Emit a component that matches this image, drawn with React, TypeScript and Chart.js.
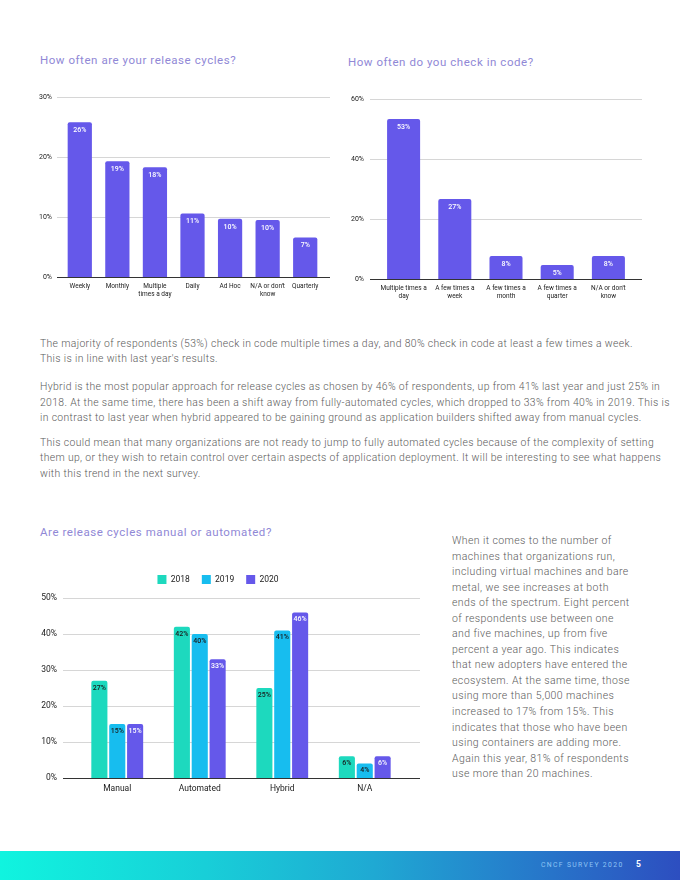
import React, { useEffect, useRef } from "react";
import { Chart, registerables } from "chart.js";

Chart.register(...registerables);

// ---------- data ----------
const releaseCategories: string[][] = [["Weekly"], ["Monthly"], ["Multiple", "times a day"], ["Daily"], ["Ad Hoc"], ["N/A or don't", "know"], ["Quarterly"]];
const releaseValues: number[] = [25.8, 19.3, 18.3, 10.6, 9.7, 9.5, 6.6];
const releaseTicks: number[] = [0, 10, 20, 30];

const checkinCategories: string[][] = [["Multiple times a", "day"], ["A few times a", "week"], ["A few times a", "month"], ["A few times a", "quarter"], ["N/A or don't", "know"]];
const checkinValues: number[] = [53.3, 26.7, 7.7, 4.7, 7.7];
const checkinTicks: number[] = [0, 20, 40, 60];

const cycleCategories: string[] = ["Manual", "Automated", "Hybrid", "N/A"];
const cycleYears: string[] = ["2018", "2019", "2020"];
const cycle2018: number[] = [27, 42, 25, 6];
const cycle2019: number[] = [15, 40, 41, 4];
const cycle2020: number[] = [15, 33, 46, 6];
const cycleTicks: number[] = [0, 10, 20, 30, 40, 50];

const paragraph1: string[] = [
  "The majority of respondents (53%) check in code multiple times a day, and 80% check in code at least a few times a week.",
  "This is in line with last year's results.",
];
const paragraph2: string[] = [
  "Hybrid is the most popular approach for release cycles as chosen by 46% of respondents, up from 41% last year and just 25% in",
  "2018. At the same time, there has been a shift away from fully-automated cycles, which dropped to 33% from 40% in 2019. This is",
  "in contrast to last year when hybrid appeared to be gaining ground as application builders shifted away from manual cycles.",
];
const paragraph3: string[] = [
  "This could mean that many organizations are not ready to jump to fully automated cycles because of the complexity of setting",
  "them up, or they wish to retain control over certain aspects of application deployment. It will be interesting to see what happens",
  "with this trend in the next survey.",
];
const sideText: string[] = [
  "When it comes to the number of",
  "machines that organizations run,",
  "including virtual machines and bare",
  "metal, we see increases at both",
  "ends of the spectrum. Eight percent",
  "of respondents use between one",
  "and five machines, up from five",
  "percent a year ago. This indicates",
  "that new adopters have entered the",
  "ecosystem. At the same time, those",
  "using more than 5,000 machines",
  "increased to 17% from 15%. This",
  "indicates that those who have been",
  "using containers are adding more.",
  "Again this year, 81% of respondents",
  "use more than 20 machines.",
];

// ---------- styles ----------
const PURPLE = "#6558EA";
const TEAL = "#1DD9BE";
const CYAN = "#17BDEF";
const TITLE_COLOR = "#9088D6";
const TEXT_COLOR = "#5b5b5b";
const FONT = "Roboto, 'DejaVu Sans', sans-serif";

// ---------- plugins ----------
const extGridPlugin = {
  id: "extGrid",
  beforeDatasetsDraw(chart: any, _args: any, opts: any) {
    const y = chart.scales.y;
    const { left, right } = chart.chartArea;
    const ctx = chart.ctx;
    ctx.save();
    ctx.lineWidth = 1;
    ctx.strokeStyle = "#d6d6d6";
    y.ticks.forEach((t: any) => {
      if (t.value === 0) return;
      const py = Math.round(y.getPixelForValue(t.value)) + 0.5;
      ctx.beginPath();
      ctx.moveTo(left - opts.extLeft, py);
      ctx.lineTo(right + opts.extRight, py);
      ctx.stroke();
    });
    ctx.restore();
  },
  afterDatasetsDraw(chart: any, _args: any, opts: any) {
    const y = chart.scales.y;
    const { left, right } = chart.chartArea;
    const ctx = chart.ctx;
    ctx.save();
    ctx.lineWidth = 1;
    ctx.strokeStyle = "#333333";
    const py = Math.round(y.getPixelForValue(0)) + 0.5;
    ctx.beginPath();
    ctx.moveTo(left - opts.extLeft, py);
    ctx.lineTo(right + opts.extRight, py);
    ctx.stroke();
    ctx.restore();
  },
};

const barLabelPlugin = {
  id: "barLabels",
  afterDatasetsDraw(chart: any, _args: any, opts: any) {
    const ctx = chart.ctx;
    chart.data.datasets.forEach((ds: any, di: number) => {
      const meta = chart.getDatasetMeta(di);
      meta.data.forEach((bar: any, i: number) => {
        const v = ds.data[i];
        ctx.save();
        ctx.font = opts.font;
        ctx.fillStyle = (opts.colors && opts.colors[di]) || "#ffffff";
        ctx.textAlign = "center";
        ctx.textBaseline = "middle";
        ctx.fillText(Math.round(v) + "%", bar.x, bar.y + opts.offset);
        ctx.restore();
      });
    });
  },
};

// adds extra space below the built-in legend
const legendGapPlugin = {
  id: "legendGap",
  beforeInit(chart: any, _args: any, opts: any) {
    const legend = chart.legend;
    if (!legend) return;
    const origFit = legend.fit;
    legend.fit = function () {
      origFit.call(this);
      this.height += opts.extra || 0;
    };
  },
};

// ---------- chart component ----------
function ChartCanvas({ config, style }: { config: () => any; style: React.CSSProperties }) {
  const ref = useRef<HTMLCanvasElement | null>(null);
  useEffect(() => {
    if (!ref.current) return;
    const chart = new Chart(ref.current, config());
    return () => chart.destroy();
  }, []);
  return (
    <div style={{ position: "absolute", ...style }}>
      <canvas ref={ref} />
    </div>
  );
}

function singleBarConfig(
  categories: string[][],
  values: number[],
  ticks: number[],
  yWidth: number,
  padRight: number,
  padTop: number,
  extLeft: number,
  extRight: number,
  yPad: number
) {
  return () => ({
    type: "bar",
    data: {
      labels: categories,
      datasets: [
        {
          data: values,
          backgroundColor: PURPLE,
          borderRadius: { topLeft: 2, topRight: 2 },
          borderSkipped: "bottom",
          categoryPercentage: 1,
          barPercentage: 0.645,
        },
      ],
    },
    plugins: [extGridPlugin, barLabelPlugin],
    options: {
      animation: false,
      responsive: true,
      maintainAspectRatio: false,
      layout: { padding: { top: padTop, right: padRight, left: 0, bottom: 0 } },
      plugins: {
        legend: { display: false },
        tooltip: { enabled: false },
        extGrid: { extLeft, extRight },
        barLabels: { font: `500 7px ${FONT}`, colors: ["#ffffff"], offset: 8 },
      },
      scales: {
        x: {
          grid: { display: false, drawTicks: false },
          border: { display: false },
          ticks: { color: "#222", font: { family: FONT, size: 6.5, lineHeight: 1.25 }, padding: 5, maxRotation: 0, autoSkip: false },
          afterFit: (s: any) => { s.height = 30; },
        },
        y: {
          min: ticks[0],
          max: ticks[ticks.length - 1],
          afterBuildTicks: (s: any) => { s.ticks = ticks.map((v) => ({ value: v })); },
          grid: { display: false, drawTicks: false },
          border: { display: false },
          ticks: { color: "#222", font: { family: FONT, size: 7 }, padding: yPad, callback: (v: any) => v + "%" },
          afterFit: (s: any) => {
            s.width = yWidth;
            s.paddingTop = 0;
          },
        },
      },
    },
  });
}

const releaseConfig = singleBarConfig(releaseCategories, releaseValues, releaseTicks, 31, 16, 11, 4, 6, 9);
const checkinConfig = singleBarConfig(checkinCategories, checkinValues, checkinTicks, 38, 36, 11, 8, 8, 14);

const cycleConfig = () => ({
  type: "bar",
  data: {
    labels: cycleCategories,
    datasets: [
      { label: cycleYears[0], data: cycle2018, backgroundColor: TEAL },
      { label: cycleYears[1], data: cycle2019, backgroundColor: CYAN },
      { label: cycleYears[2], data: cycle2020, backgroundColor: PURPLE },
    ].map((d) => ({
      ...d,
      borderRadius: { topLeft: 2, topRight: 2 },
      borderSkipped: "bottom",
      categoryPercentage: 0.65,
      barPercentage: 0.9,
    })),
  },
  plugins: [extGridPlugin, barLabelPlugin, legendGapPlugin],
  options: {
    animation: false,
    responsive: true,
    maintainAspectRatio: false,
    layout: { padding: { top: 0, right: 24, left: 0, bottom: 0 } },
    plugins: {
      legend: {
        display: true,
        position: "top",
        labels: { boxWidth: 9, boxHeight: 9, padding: 12, color: "#222", font: { family: FONT, size: 8.5 } },
      },
      legendGap: { extra: 4 },
      tooltip: { enabled: false },
      extGrid: { extLeft: 13, extRight: 14 },
      barLabels: { font: `500 7px ${FONT}`, colors: ["#1a1a1a", "#1a1a1a", "#ffffff"], offset: 7 },
    },
    scales: {
      x: {
        grid: { display: false, drawTicks: false },
        border: { display: false },
        ticks: { color: "#222", font: { family: FONT, size: 8.5 }, padding: 6, maxRotation: 0, autoSkip: false },
        afterFit: (s: any) => { s.height = 22; },
      },
      y: {
        min: cycleTicks[0],
        max: cycleTicks[cycleTicks.length - 1],
        afterBuildTicks: (s: any) => { s.ticks = cycleTicks.map((v) => ({ value: v })); },
        grid: { display: false, drawTicks: false },
        border: { display: false },
        ticks: { color: "#222", font: { family: FONT, size: 8.5 }, padding: 19, callback: (v: any) => v + "%" },
        afterFit: (s: any) => { s.width = 46; },
      },
    },
  },
});

// ---------- page ----------
const titleStyle: React.CSSProperties = {
  position: "absolute",
  fontFamily: FONT,
  fontSize: 11.5,
  fontWeight: 400,
  letterSpacing: 0.55,
  color: TITLE_COLOR,
  whiteSpace: "nowrap",
  lineHeight: "14px",
};

function Lines({ lines, left, top, fontSize, lineHeight, letterSpacing }: { lines: string[]; left: number; top: number; fontSize: number; lineHeight: number; letterSpacing?: number }) {
  return (
    <div
      style={{
        position: "absolute",
        left,
        top,
        fontFamily: FONT,
        fontWeight: 300,
        fontSize,
        lineHeight: `${lineHeight}px`,
        letterSpacing: letterSpacing || 0,
        color: TEXT_COLOR,
        whiteSpace: "nowrap",
      }}
    >
      {lines.map((l, i) => (
        <div key={i}>{l}</div>
      ))}
    </div>
  );
}

export default function App() {
  return (
    <div style={{ position: "absolute", left: 0, top: 0, width: 680, height: 880, overflow: "hidden", background: "#fff" }}>
      <div style={{ ...titleStyle, left: 40, top: 53 }}>How often are your release cycles?</div>
      <div style={{ ...titleStyle, left: 348, top: 55 }}>How often do you check in code?</div>

      <ChartCanvas config={releaseConfig} style={{ left: 30, top: 86, width: 310, height: 221 }} />
      <ChartCanvas config={checkinConfig} style={{ left: 340, top: 88, width: 330, height: 221 }} />

      <Lines lines={paragraph1} left={40} top={336} fontSize={10.4} lineHeight={15.3} letterSpacing={0.35} />
      <Lines lines={paragraph2} left={40} top={379} fontSize={10.4} lineHeight={15.5} letterSpacing={0.35} />
      <Lines lines={paragraph3} left={40} top={435} fontSize={10.4} lineHeight={15.3} letterSpacing={0.35} />

      <div style={{ ...titleStyle, left: 40, top: 525 }}>Are release cycles manual or automated?</div>
      <ChartCanvas config={cycleConfig} style={{ left: 30, top: 563, width: 400, height: 239 }} />

      <Lines lines={sideText} left={452} top={533} fontSize={10.5} lineHeight={15.55} letterSpacing={0.4} />

      <div
        style={{
          position: "absolute",
          left: 0,
          top: 851,
          width: 680,
          height: 29,
          background: "linear-gradient(90deg, #10F4DF 0%, #18CFD8 30%, #1FA9D3 55%, #2580CC 75%, #2D4EC0 100%)",
        }}
      >
        <div
          style={{
            position: "absolute",
            left: 541,
            top: 9,
            fontFamily: FONT,
            fontSize: 6.8,
            letterSpacing: 1.35,
            color: "#8EC5F5",
            lineHeight: "10px",
            whiteSpace: "nowrap",
          }}
        >
          CNCF SURVEY 2020
        </div>
        <div
          style={{
            position: "absolute",
            left: 636,
            top: 8,
            fontFamily: FONT,
            fontSize: 8.5,
            fontWeight: 700,
            color: "#ffffff",
            lineHeight: "11px",
          }}
        >
          5
        </div>
      </div>
    </div>
  );
}
